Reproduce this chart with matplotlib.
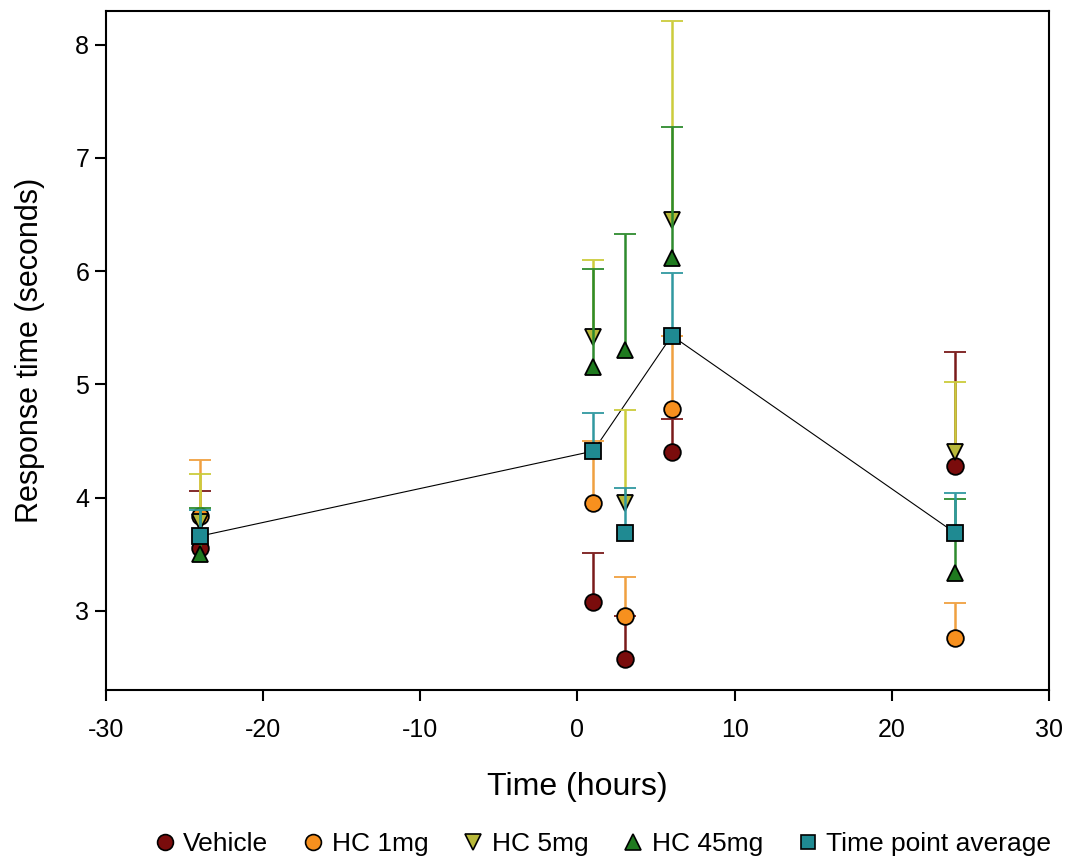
import matplotlib
matplotlib.use("Agg")
import matplotlib.pyplot as plt
import numpy as np

plt.rcParams['font.family'] = ['Liberation Sans', 'DejaVu Sans']
plt.rcParams['axes.unicode_minus'] = False

times = [-24, 1, 3, 6, 24]

vehicle = [3.55, 3.08, 2.57, 4.40, 4.28]
vehicle_err = [0.51, 0.43, 0.38, 0.29, 1.01]
hc1 = [3.84, 3.95, 2.95, 4.78, 2.76]
hc1_err = [0.49, 0.55, 0.35, 0.65, 0.31]
hc5 = [3.78, 5.42, 3.95, 6.45, 4.40]
hc5_err = [0.43, 0.68, 0.82, 1.76, 0.62]
hc45 = [3.50, 5.15, 5.30, 6.12, 3.33]
hc45_err = [0.41, 0.87, 1.03, 1.15, 0.66]
avg = [3.66, 4.41, 3.69, 5.43, 3.69]
avg_err = [0.23, 0.34, 0.39, 0.55, 0.35]
avg_in_line = [True, True, False, True, True]

labels = ["Vehicle", "HC 1mg", "HC 5mg", "HC 45mg", "Time point average"]

fig = plt.figure(figsize=(10.74, 8.63), dpi=100)
ax = fig.add_axes([0.0987, 0.2005, 0.878, 0.787])

series = [
    (vehicle, vehicle_err, 'o', '#7a0c0c', '#7a1a1a', 12),
    (hc1, hc1_err, 'o', '#f7901e', '#f0a040', 12),
    (hc5, hc5_err, 'v', '#b8b83a', '#cccc3c', 12),
    (hc45, hc45_err, '^', '#1f7a1f', '#2e8b2e', 12),
    (avg, avg_err, 's', '#1f8a92', '#3098a0', 11),
]

# line through averages
lx = [t for t, m in zip(times, avg_in_line) if m]
ly = [v for v, m in zip(avg, avg_in_line) if m]
ax.plot(lx, ly, color='black', lw=0.8, zorder=2.5)

handles = []
for i, (vals, err, mk, fc, ec, ms) in enumerate(series):
    z = 3 + i
    yerr = np.vstack([np.zeros(len(err)), np.array(err)])
    eb = ax.errorbar(times, vals, yerr=yerr, fmt=mk, ms=ms, mfc=fc, mec='black',
                     mew=1.3, ecolor=ec, elinewidth=1.8, capsize=8, capthick=1.8,
                     zorder=z, label=labels[i])
    caps = eb[1]
    if len(caps) == 2:
        caps[0].set_visible(False)
    handles.append(ax.plot([], [], mk, ms=ms * 0.95, mfc=fc, mec='black', mew=1.2,
                           linestyle='none')[0])

ax.set_xlim(-30, 30)
ax.set_ylim(2.3, 8.3)
ax.set_xticks([-30, -20, -10, 0, 10, 20, 30])
ax.set_yticks([3, 4, 5, 6, 7, 8])
ax.tick_params(axis='both', direction='out', length=8, width=1.5, labelsize=18,
               top=False, right=False)
ax.tick_params(axis='x', pad=12)
ax.tick_params(axis='y', pad=4)
for s in ax.spines.values():
    s.set_linewidth(1.5)

ax.set_xlabel("Time (hours)", fontsize=23, labelpad=22)
ax.set_ylabel("Response time (seconds)", fontsize=22, labelpad=22)

fig.legend(handles, labels, loc='center', bbox_to_anchor=(0.56, 0.022), ncol=5,
           frameon=False, fontsize=19, handletextpad=0.2, columnspacing=1.2,
           handlelength=1.0)

fig.savefig("out.png", dpi=100)
